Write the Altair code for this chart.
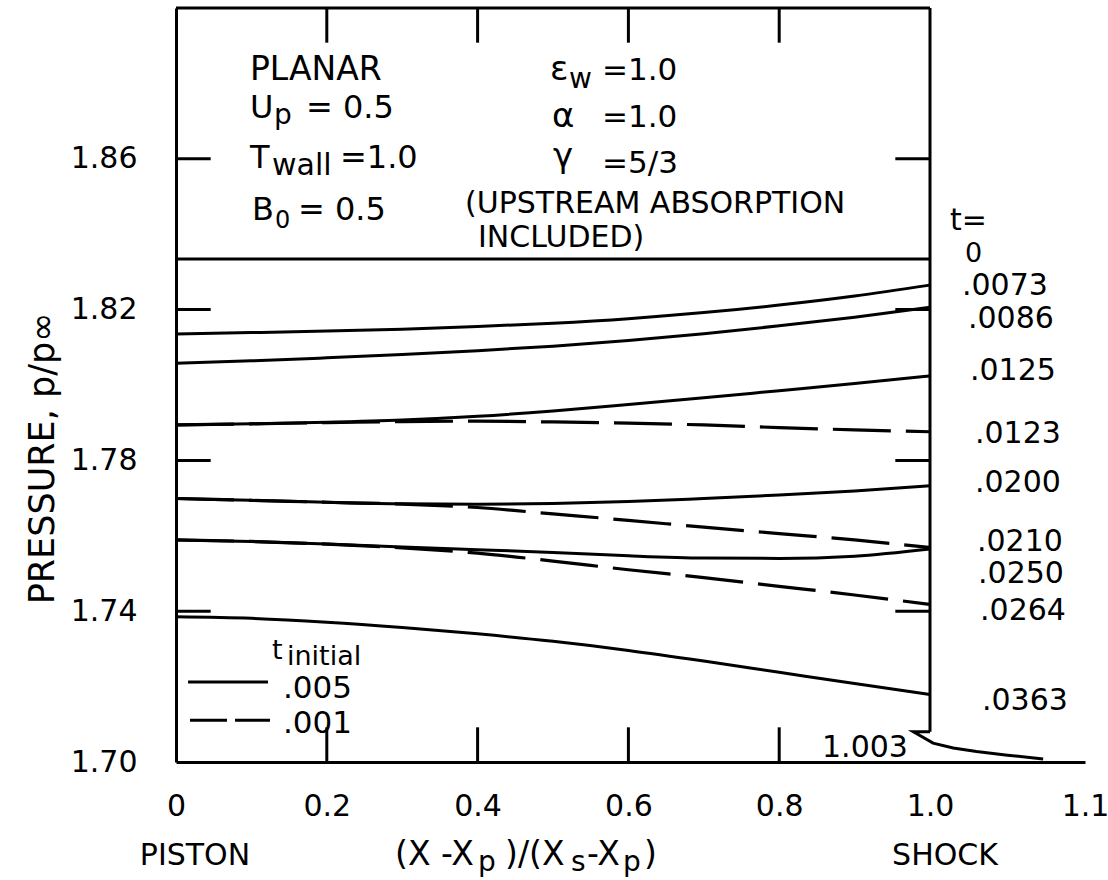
import altair as alt
import pandas as pd

FONT = "DejaVu Sans"

# ---------------- data ----------------
XS = [0.0, 0.1, 0.2, 0.3, 0.4, 0.5, 0.6, 0.7, 0.8, 0.9, 1.0]

P_0    = [1.8334, 1.8334, 1.8334, 1.8334, 1.8334, 1.8334, 1.8334, 1.8334, 1.8334, 1.8334, 1.8334]
P_0073 = [1.8135, 1.8139, 1.8143, 1.8148, 1.8155, 1.8164, 1.8176, 1.8192, 1.8212, 1.8236, 1.8265]
P_0086 = [1.8058, 1.8064, 1.8072, 1.8081, 1.8091, 1.8103, 1.8118, 1.8136, 1.8157, 1.8180, 1.8206]
P_0125 = [1.7894, 1.7897, 1.7901, 1.7907, 1.7917, 1.7931, 1.7948, 1.7966, 1.7985, 1.8004, 1.8024]
P_0123 = [1.7894, 1.7897, 1.7900, 1.7903, 1.7904, 1.7902, 1.7899, 1.7894, 1.7887, 1.7881, 1.7876]
P_0200 = [1.7699, 1.7694, 1.7689, 1.7685, 1.7684, 1.7686, 1.7691, 1.7699, 1.7708, 1.7719, 1.7733]
P_0210 = [1.7699, 1.7694, 1.7689, 1.7684, 1.7675, 1.7658, 1.7641, 1.7623, 1.7606, 1.7589, 1.7569]
P_0250 = [1.7589, 1.7585, 1.7578, 1.7570, 1.7563, 1.7556, 1.7547, 1.7541, 1.7540, 1.7546, 1.7565]
P_0264 = [1.7589, 1.7585, 1.7578, 1.7568, 1.7554, 1.7533, 1.7510, 1.7489, 1.7466, 1.7443, 1.7418]
P_0363 = [1.7385, 1.7381, 1.7371, 1.7357, 1.7340, 1.7320, 1.7296, 1.7268, 1.7238, 1.7208, 1.7179]

SOLID = {"0": P_0, ".0073": P_0073, ".0086": P_0086, ".0125": P_0125,
         ".0200": P_0200, ".0250": P_0250, ".0363": P_0363}
DASHED = {".0123": P_0123, ".0210": P_0210, ".0264": P_0264}

# shock break mark and the upstream (p = 1.003) foot beyond the shock
SHOCK_X = [1.0, 0.978, 1.002, 1.015, 1.030, 1.050, 1.073]
SHOCK_P = [1.7080, 1.7080, 1.7050, 1.7037, 1.7028, 1.7018, 1.7008]

# right-hand curve labels
T_LABELS = ["t=", "0", ".0073", ".0086", ".0125", ".0123", ".0200", ".0210", ".0250", ".0264", ".0363"]
T_LAB_X  = [1.0129, 1.0226, 1.0206, 1.0245, 1.0258, 1.0290, 1.0290, 1.0303, 1.0310, 1.0323, 1.0335]
T_LAB_Y  = [1.8411, 1.8325, 1.8238, 1.8151, 1.8013, 1.7846, 1.7716, 1.7560, 1.7475, 1.7377, 1.7138]
T_LAB_SIZE = [30, 27, 30, 30, 30, 30, 30, 30, 30, 30, 30]

# parameter block (text pieces, with subscripts as separate pieces)
ANN_TEXT = ["PLANAR", "U", "p", "= 0.5", "T", "wall", "=1.0", "B", "0", "= 0.5",
            "ε", "w", "=1.0", "α", "=1.0", "γ", "=5/3",
            "(UPSTREAM ABSORPTION", "INCLUDED)", "1.003",
            "t", "initial", ".005", ".001",
            "(X -X", "p", ")/(X", "s", "-X", "p", ")"]
ANN_X = [0.0981, 0.0981, 0.1300, 0.1724, 0.0981, 0.1273, 0.2175, 0.1008, 0.1313, 0.1618,
         0.4960, 0.5212, 0.5650, 0.4987, 0.5650, 0.5000, 0.5650,
         0.3833, 0.4005, 0.8568,
         0.1273, 0.1472, 0.1419, 0.1419,
         0.2905, 0.4005, 0.4364, 0.5240, 0.5452, 0.5929, 0.6207]
ANN_Y = [1.8809, 1.8708, 1.8692, 1.8708, 1.8576, 1.8558, 1.8576, 1.8438, 1.8416, 1.8438,
         1.8809, 1.8788, 1.8809, 1.8684, 1.8684, 1.8578, 1.8562,
         1.8456, 1.8366, 1.7013,
         1.7273, 1.7257, 1.7170, 1.7077,
         1.6727, 1.6711, 1.6727, 1.6711, 1.6727, 1.6711, 1.6727]
ANN_SIZE = [33, 32, 28, 32, 32, 30, 32, 32, 24, 32,
            34, 28, 31, 34, 31, 34, 31,
            30, 30, 30,
            27, 27, 31, 31,
            33, 28, 33, 28, 33, 28, 33]

# centred texts under the axis
CTR_TEXT = ["PISTON", "SHOCK"]
CTR_X = [0.0252, 1.0097]
CTR_Y = [1.6727, 1.6727]

# axis ticks
X_TICKS = [0.2, 0.4, 0.6, 0.8]
Y_TICKS = [1.74, 1.78, 1.82, 1.86]
X_LABEL_VALUES = [0.0, 0.2, 0.4, 0.6, 0.8, 1.0, 1.1]
Y_LABEL_VALUES = [1.70, 1.74, 1.78, 1.82, 1.86]

# legend samples
LEG_X1 = [0.016, 0.0186]
LEG_X2 = [0.122, 0.1247]
LEG_Y = [1.7212, 1.7111]

# ---------------- build tables ----------------
rows = []
for name, vals in SOLID.items():
    for x, p in zip(XS, vals):
        rows.append({"x": x, "p": p, "t": name})
solid_df = pd.DataFrame(rows)
rows = []
for name, vals in DASHED.items():
    for x, p in zip(XS, vals):
        rows.append({"x": x, "p": p, "t": name})
dashed_df = pd.DataFrame(rows)
shock_df = pd.DataFrame({"x": SHOCK_X, "p": SHOCK_P, "o": list(range(len(SHOCK_X)))})

ann_df = pd.DataFrame({"x": ANN_X, "y": ANN_Y, "text": ANN_TEXT, "fs": ANN_SIZE})
tlab_df = pd.DataFrame({"x": T_LAB_X, "y": T_LAB_Y, "text": T_LABELS, "fs": T_LAB_SIZE})
ctr_df = pd.DataFrame({"x": CTR_X, "y": CTR_Y, "text": CTR_TEXT})

X0, X1, Y0, Y1 = 0.0, 1.0, 1.70, 1.90
TLX, TLY = 0.046, 0.0092
tick_rows = []
for v in X_TICKS:
    tick_rows.append({"x": v, "x2": v, "y": Y1, "y2": Y1 - TLY})
    tick_rows.append({"x": v, "x2": v, "y": Y0, "y2": Y0 + TLY})
for v in Y_TICKS:
    tick_rows.append({"x": X0, "x2": X0 + TLX, "y": v, "y2": v})
    tick_rows.append({"x": X1, "x2": X1 - TLX, "y": v, "y2": v})
# frame: top edge and right edge (down to the break mark)
tick_rows.append({"x": X0, "x2": X1, "y": Y1, "y2": Y1})
tick_rows.append({"x": X1, "x2": X1, "y": Y1, "y2": SHOCK_P[0]})
ticks_df = pd.DataFrame(tick_rows)

leg_df = pd.DataFrame({"x": LEG_X1, "x2": LEG_X2, "y": LEG_Y, "style": ["solid", "dashed"]})
title_df = pd.DataFrame({"x": [-0.1764], "y": [1.7805], "text": ["PRESSURE, p/p∞"]})

# ---------------- scales & axes ----------------
XSCALE = alt.Scale(domain=[0, 1, 1.1], range=[0, 754, 909], nice=False, zero=False)
YSCALE = alt.Scale(domain=[Y0, Y1], nice=False, zero=False)
XAXIS = alt.Axis(values=X_LABEL_VALUES, title=None, grid=False, ticks=False, tickSize=0,
                 labelExpr="datum.value == 0 ? '0' : format(datum.value, '.1f')",
                 labelFont=FONT, labelFontSize=30, labelColor="black",
                 labelPadding=53, labelBaseline="alphabetic", labelFlush=False,
                 labelOverlap=False, domainColor="black", domainWidth=3)
YAXIS = alt.Axis(values=Y_LABEL_VALUES, title=None, grid=False, ticks=False, tickSize=0,
                 format=".2f", labelFont=FONT, labelFontSize=30, labelColor="black",
                 labelPadding=39, labelFlush=False, labelOverlap=False,
                 domainColor="black", domainWidth=3)


def X(f):
    return alt.X(f, type="quantitative", scale=XSCALE, axis=XAXIS)


def Y(f):
    return alt.Y(f, type="quantitative", scale=YSCALE, axis=YAXIS)


solid = alt.Chart(solid_df).mark_line(color="black", strokeWidth=3, interpolate="monotone").encode(
    x=X("x"), y=Y("p"), detail="t:N")
dashed = alt.Chart(dashed_df).mark_line(color="black", strokeWidth=3.2, interpolate="monotone",
                                        strokeDash=[58, 15]).encode(
    x=X("x"), y=Y("p"), detail="t:N")
shock = alt.Chart(shock_df).mark_line(color="black", strokeWidth=3).encode(
    x=X("x"), y=Y("p"), order="o:Q")
frame = alt.Chart(ticks_df).mark_rule(color="black", strokeWidth=3).encode(
    x=X("x"), x2="x2", y=Y("y"), y2="y2")
leg_solid = alt.Chart(leg_df[leg_df["style"] == "solid"]).mark_rule(color="black", strokeWidth=3).encode(
    x=X("x"), x2="x2", y=Y("y"))
leg_dash = alt.Chart(leg_df[leg_df["style"] == "dashed"]).mark_rule(
    color="black", strokeWidth=3, strokeDash=[37, 8]).encode(x=X("x"), x2="x2", y=Y("y"))

ann = alt.Chart(ann_df).mark_text(align="left", baseline="alphabetic", font=FONT, color="black").encode(
    x=X("x"), y=Y("y"), text="text:N", size=alt.Size("fs:Q", scale=None, legend=None))
tlab = alt.Chart(tlab_df).mark_text(align="left", baseline="alphabetic", font=FONT, color="black").encode(
    x=X("x"), y=Y("y"), text="text:N", size=alt.Size("fs:Q", scale=None, legend=None))
ctr = alt.Chart(ctr_df).mark_text(align="center", baseline="alphabetic", font=FONT, color="black",
                                  fontSize=30).encode(x=X("x"), y=Y("y"), text="text:N")
ytitle = alt.Chart(title_df).mark_text(align="center", baseline="middle", angle=270, font=FONT,
                                       color="black", fontSize=35).encode(
    x=X("x"), y=Y("y"), text="text:N")

chart = alt.layer(solid, dashed, shock, frame, leg_solid, leg_dash, ann, tlab, ctr, ytitle).properties(
    width=909, height=754,
    autosize=alt.AutoSizeParams(type="none"),
    padding={"left": 176, "top": 8, "right": 23, "bottom": 118},
    background="white",
).configure_view(stroke=None)

chart.save("out.html", embed_options={"renderer": "svg", "actions": False})
